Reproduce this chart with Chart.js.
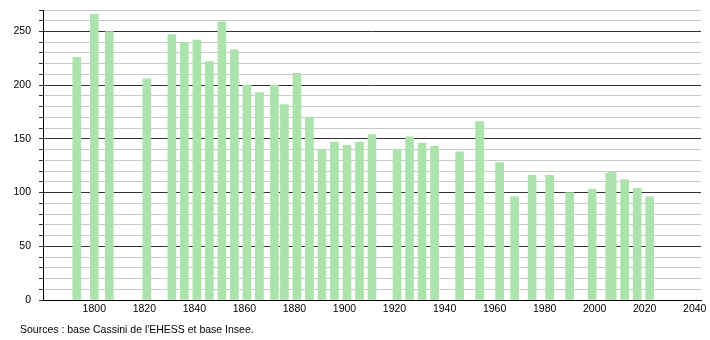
<!DOCTYPE html>
<html>
<head>
<meta charset="utf-8">
<script src="https://cdn.jsdelivr.net/npm/chart.js@4/dist/chart.umd.min.js"></script>
<style>
  html, body { margin: 0; padding: 0; background: #fff; }
  #wrap { width: 710px; height: 340px; position: relative; }
</style>
</head>
<body>
<div id="wrap"><canvas id="popChart"></canvas></div>
<script>
// census years and population
const years = [1793, 1800, 1806, 1821, 1831, 1836, 1841, 1846, 1851, 1856,
               1861, 1866, 1872, 1876, 1881, 1886, 1891, 1896, 1901, 1906,
               1911, 1921, 1926, 1931, 1936, 1946, 1954, 1962, 1968, 1975,
               1982, 1990, 1999, 2006, 2007, 2012, 2017, 2022];
const population = [226, 266, 250, 206, 247, 240, 242, 222, 259, 233,
                    200, 193, 200, 182, 211, 170, 140, 147, 144, 147,
                    154, 140, 152, 146, 143, 138, 166, 128, 96, 116,
                    116, 100, 103, 118, 119, 112, 104, 96];
const xTicks = [1800, 1820, 1840, 1860, 1880, 1900, 1920, 1940, 1960, 1980, 2000, 2020, 2040];
const sourceText = "Sources : base Cassini de l'EHESS et base Insee.";

const font = { family: "'Liberation Sans', Arial, sans-serif", size: 10.5 };

// footer note under the axis
const sourcePlugin = {
    id: 'sourceNote',
    afterDraw(chart) {
        const ctx = chart.ctx;
        ctx.save();
        ctx.fillStyle = '#000';
        ctx.font = "10.5px 'Liberation Sans', Arial, sans-serif";
        ctx.textBaseline = 'middle';
        ctx.fillText(sourceText, 20, 330);
        ctx.restore();
    }
};

new Chart(document.getElementById('popChart'), {
    type: 'bar',
    data: {
        datasets: [{
            data: years.map((y, i) => ({ x: y, y: population[i] })),
            backgroundColor: '#ace3ac',
            borderWidth: 0,
            barThickness: 8
        }]
    },
    options: {
        responsive: true,
        maintainAspectRatio: false,
        animation: false,
        layout: { padding: { top: 10, right: 9, left: 0, bottom: 0 } },
        plugins: {
            legend: { display: false },
            tooltip: { enabled: false }
        },
        scales: {
            x: {
                type: 'linear',
                min: 1779.5,
                max: 2042.5,
                offset: false,
                afterBuildTicks: scale => { scale.ticks = xTicks.map(v => ({ value: v })); },
                afterFit: scale => { scale.height = 40; scale.paddingLeft = 0; scale.paddingRight = 0; },
                grid: { display: false, drawTicks: false, offset: false },
                border: { color: '#000', width: 1 },
                ticks: {
                    color: '#000', font: font, padding: 3, maxRotation: 0, autoSkip: false,
                    callback: v => String(v)
                }
            },
            y: {
                min: 0,
                max: 270,
                afterFit: scale => { scale.width = 43; scale.paddingTop = 0; scale.paddingBottom = 0; },
                grid: {
                    color: c => (c.tick.value % 50 === 0 ? '#333' : '#c8c8c8'),
                    tickColor: '#333',
                    tickLength: 4
                },
                border: { color: '#000', width: 1 },
                ticks: {
                    stepSize: 10,
                    color: '#000',
                    font: font,
                    padding: 8,
                    autoSkip: false,
                    callback: v => (v % 50 === 0 ? String(v) : '')
                }
            }
        }
    },
    plugins: [sourcePlugin]
});
</script>
</body>
</html>
